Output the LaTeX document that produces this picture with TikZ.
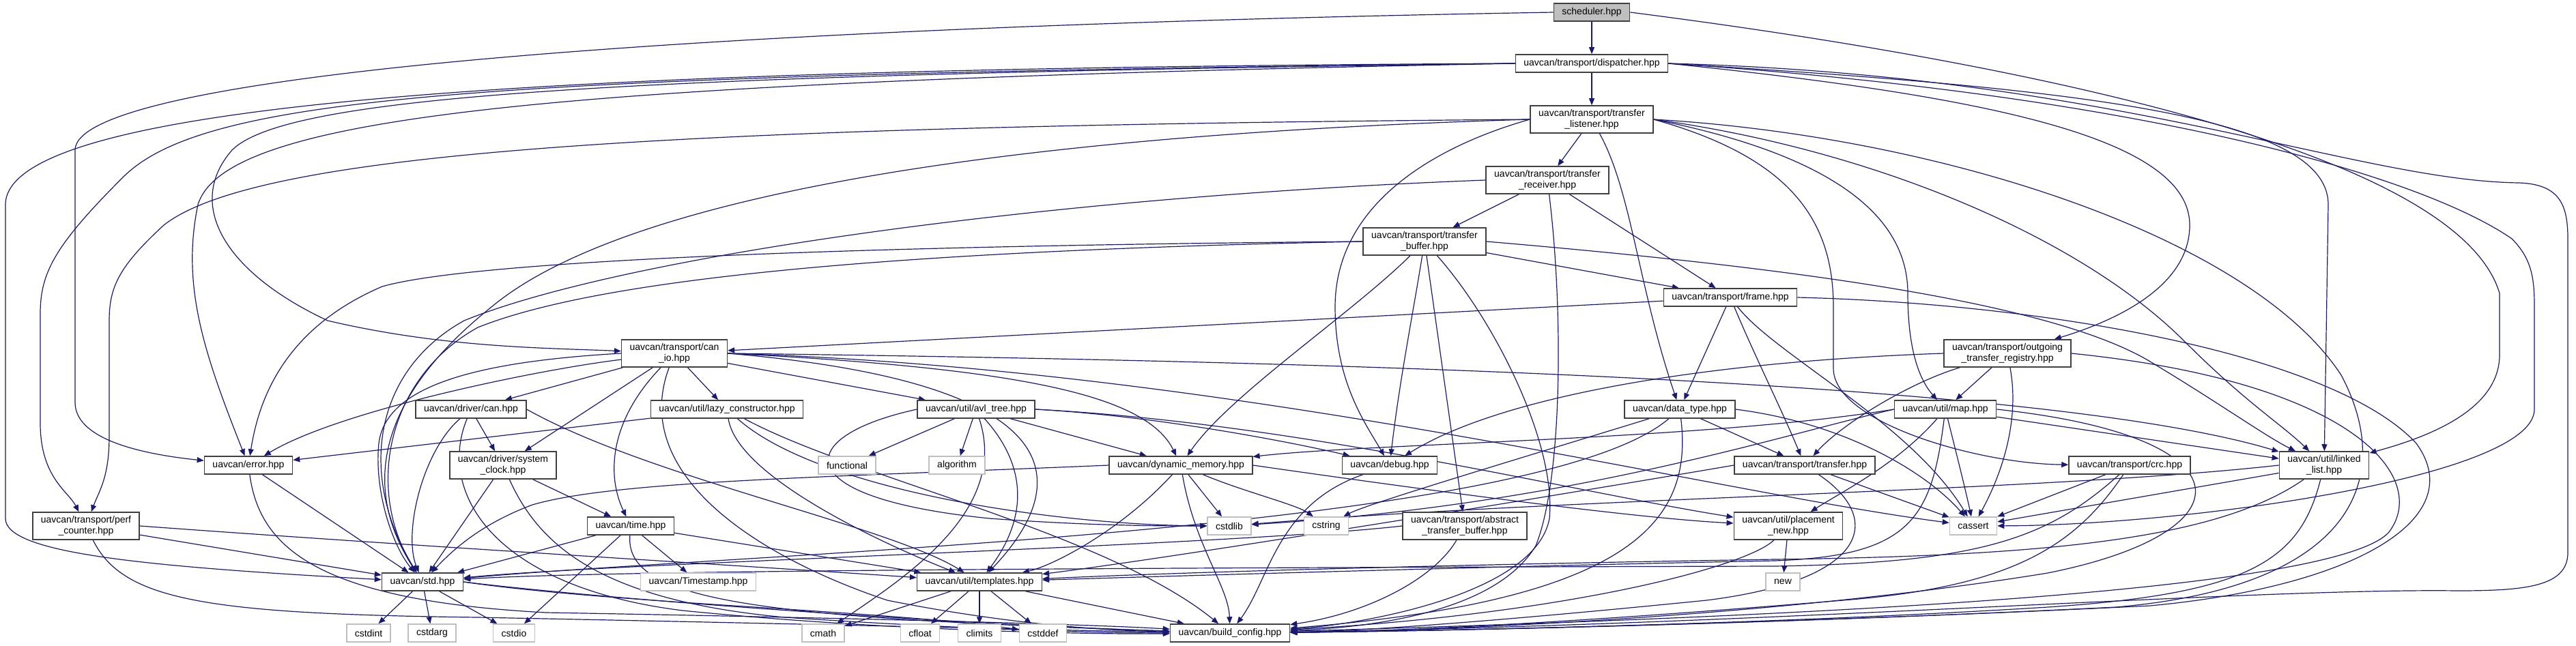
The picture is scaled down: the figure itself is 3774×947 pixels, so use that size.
\documentclass[tikz,border=0pt]{standalone}
\usepackage{fontspec}
\setmainfont{Liberation Sans}
\usetikzlibrary{arrows.meta}

\definecolor{edgeblue}{HTML}{191970}
\definecolor{hdrline}{HTML}{404040}
\definecolor{sysline}{HTML}{BFBFBF}
\definecolor{rootfill}{HTML}{BFBFBF}

\pgfdeclarelayer{edges}
\pgfsetlayers{edges,main}

\tikzset{
	hdr/.style = {draw=hdrline, line width=1.5pt, fill=white, align=center, inner xsep=12pt, inner ysep=5.5pt, minimum height=26pt, font=\fontsize{14}{16}\selectfont},
	syshdr/.style = {hdr, draw=sysline},
	roothdr/.style = {hdr, fill=rootfill},
	inc/.style = {draw=edgeblue, line width=1.2pt, -{Triangle[length=10pt,width=8pt]}}
}

\begin{document}
\begin{tikzpicture}[x=1pt,y=-1pt]

	\useasboundingbox (0,0) rectangle (3774,947);

	\node[roothdr] (sched) at (2332,18) {scheduler.hpp};
	\node[hdr] (disp) at (2332,93) {uavcan/transport/dispatcher.hpp};
	\node[hdr] (listener) at (2332,175) {uavcan/transport/transfer\\\_listener.hpp};
	\node[hdr] (receiver) at (2267,264) {uavcan/transport/transfer\\\_receiver.hpp};
	\node[hdr] (tbuffer) at (2087,354) {uavcan/transport/transfer\\\_buffer.hpp};
	\node[hdr] (frame) at (2535,436) {uavcan/transport/frame.hpp};
	\node[hdr] (canio) at (988,518) {uavcan/transport/can\\\_io.hpp};
	\node[hdr] (outgoing) at (2941,518) {uavcan/transport/outgoing\\\_transfer\_registry.hpp};
	\node[hdr] (drvcan) at (690,600) {uavcan/driver/can.hpp};
	\node[hdr] (lazy) at (1065,600) {uavcan/util/lazy\_constructor.hpp};
	\node[hdr] (avl) at (1430,600) {uavcan/util/avl\_tree.hpp};
	\node[hdr] (datatype) at (2461,600) {uavcan/data\_type.hpp};
	\node[hdr] (map) at (2850,600) {uavcan/util/map.hpp};
	\node[hdr] (error) at (364,682) {uavcan/error.hpp};
	\node[hdr] (sysclock) at (737,682) {uavcan/driver/system\\\_clock.hpp};
	\node[syshdr] (functional) at (1241,682) {functional};
	\node[syshdr] (algorithm) at (1402,682) {algorithm};
	\node[hdr] (dynmem) at (1730,682) {uavcan/dynamic\_memory.hpp};
	\node[hdr] (debug) at (2036,682) {uavcan/debug.hpp};
	\node[hdr] (transfer) at (2644,682) {uavcan/transport/transfer.hpp};
	\node[hdr] (crc) at (3120,682) {uavcan/transport/crc.hpp};
	\node[hdr] (linked) at (3405,682) {uavcan/util/linked\\\_list.hpp};
	\node[hdr] (perf) at (126,771) {uavcan/transport/perf\\\_counter.hpp};
	\node[hdr] (time) at (924,771) {uavcan/time.hpp};
	\node[syshdr] (cstdlib) at (1801,771) {cstdlib};
	\node[syshdr] (cstring) at (1943,771) {cstring};
	\node[hdr] (abstract) at (2146,771) {uavcan/transport/abstract\\\_transfer\_buffer.hpp};
	\node[hdr] (placement) at (2620,771) {uavcan/util/placement\\\_new.hpp};
	\node[syshdr] (cassert) at (2891,771) {cassert};
	\node[hdr] (std) at (619,853) {uavcan/std.hpp};
	\node[syshdr] (timestamp) at (1023,853) {uavcan/Timestamp.hpp};
	\node[hdr] (templates) at (1435,853) {uavcan/util/templates.hpp};
	\node[syshdr] (new) at (2612,853) {new};
	\node[syshdr] (cstdint) at (540,928) {cstdint};
	\node[syshdr] (cstdarg) at (633,928) {cstdarg};
	\node[syshdr] (cstdio) at (753,928) {cstdio};
	\node[syshdr] (cmath) at (1206,928) {cmath};
	\node[syshdr] (cfloat) at (1348,928) {cfloat};
	\node[syshdr] (climits) at (1435,928) {climits};
	\node[syshdr] (cstddef) at (1528,928) {cstddef};
	\node[hdr] (buildcfg) at (1802,928) {uavcan/build\_config.hpp};

	\begin{pgfonlayer}{edges}
	\draw[inc] (sched) -- (disp);
	\draw[inc] (sched.west) .. controls (1000,40) and (110,110) .. (110,220) -- (110,590) .. controls (110,650) and (230,668) .. (error);
	\draw[inc] (sched.east) .. controls (2950,90) and (3600,220) .. (3662,430) -- (3662,520) .. controls (3662,600) and (3560,640) .. (linked);

	\draw[inc] (disp) -- (listener);
	\draw[inc] (disp.east) .. controls (3100,110) and (3450,265) .. (3690,268) .. controls (3750,270) and (3762,300) .. (3762,350) -- (3762,810) .. controls (3762,860) and (3700,866) .. (3600,866) .. controls (3300,862) and (2600,915) .. (buildcfg);
	\draw[inc] (disp.east) .. controls (3150,140) and (3550,260) .. (3680,350) .. controls (3710,380) and (3713,410) .. (3713,450) -- (3713,600) .. controls (3713,700) and (3200,770) .. (cassert);
	\draw[inc] (disp.east) .. controls (3050,130) and (3411,170) .. (3411,300) -- (linked);
	\draw[inc] (disp.east) .. controls (2900,140) and (3208,200) .. (3208,330) .. controls (3208,420) and (3100,470) .. (outgoing);
	\draw[inc] (disp.west) .. controls (900,100) and (8,140) .. (8,300) -- (8,760) .. controls (8,810) and (200,830) .. (std);
	\draw[inc] (disp.west) .. controls (700,110) and (300,140) .. (180,260) .. controls (80,360) and (59,400) .. (59,460) -- (59,620) .. controls (59,700) and (100,720) .. (perf);
	\draw[inc] (disp.west) .. controls (900,110) and (420,140) .. (340,220) .. controls (270,300) and (330,400) .. (480,470) .. controls (650,510) and (800,510) .. (canio);
	\draw[inc] (disp.west) .. controls (800,120) and (330,170) .. (290,300) .. controls (265,420) and (300,520) .. (error);

	\draw[inc] (listener) -- (receiver);
	\draw[inc] (listener.west) .. controls (1000,185) and (380,220) .. (240,330) .. controls (175,390) and (160,420) .. (160,470) -- (160,640) .. controls (160,700) and (145,720) .. (perf);
	\draw[inc] (listener.west) .. controls (1400,200) and (900,300) .. (720,450) .. controls (570,570) and (520,700) .. (std);
	\draw[inc] (listener.west) .. controls (2100,215) and (1956,300) .. (1956,450) .. controls (1956,560) and (2000,620) .. (debug);
	\draw[inc] (listener) .. controls (2390,280) and (2400,420) .. (datatype);
	\draw[inc] (listener.east) .. controls (2650,220) and (2795,300) .. (2795,430) .. controls (2795,520) and (2815,560) .. (map);
	\draw[inc] (listener.east) .. controls (2620,230) and (2686,320) .. (2686,450) -- (2686,540) .. controls (2686,620) and (2900,680) .. (crc);
	\draw[inc] (listener.east) .. controls (2750,220) and (3050,350) .. (3200,500) .. controls (3290,590) and (3340,620) .. (linked);
	\draw[inc] (listener.east) .. controls (2850,200) and (3300,350) .. (3430,550) .. controls (3510,700) and (3450,860) .. (3100,890) .. controls (2600,915) and (2100,925) .. (buildcfg);

	\draw[inc] (receiver) -- (tbuffer);
	\draw[inc] (receiver) -- (frame);
	\draw[inc] (receiver.west) .. controls (1500,290) and (900,380) .. (680,470) .. controls (545,545) and (525,700) .. (std);
	\draw[inc] (receiver) .. controls (2290,450) and (2290,700) .. (2250,800) .. controls (2190,900) and (2000,920) .. (buildcfg);

	\draw[inc] (tbuffer) -- (frame);
	\draw[inc] (tbuffer) -- (abstract);
	\draw[inc] (tbuffer) .. controls (2070,460) and (2050,560) .. (debug);
	\draw[inc] (tbuffer) .. controls (1980,460) and (1800,580) .. (dynmem);
	\draw[inc] (tbuffer.east) .. controls (2600,390) and (3000,440) .. (3150,530) .. controls (3250,590) and (3320,640) .. (linked);
	\draw[inc] (tbuffer.west) .. controls (1300,360) and (700,380) .. (560,420) .. controls (420,480) and (380,580) .. (error);
	\draw[inc] (tbuffer.west) .. controls (1200,370) and (850,420) .. (700,480) .. controls (565,555) and (535,720) .. (std);
	\draw[inc] (tbuffer) .. controls (2190,470) and (2280,650) .. (2270,760) .. controls (2250,870) and (2000,915) .. (buildcfg);

	\draw[inc] (frame) -- (canio);
	\draw[inc] (frame) -- (datatype);
	\draw[inc] (frame) .. controls (2570,520) and (2610,600) .. (transfer);
	\draw[inc] (frame) .. controls (2600,520) and (2800,620) .. (cassert);
	\draw[inc] (frame.east) .. controls (3000,445) and (3420,520) .. (3540,650) .. controls (3620,760) and (3450,860) .. (3150,888) .. controls (2600,915) and (2100,925) .. (buildcfg);

	\draw[inc] (canio) .. controls (800,540) and (500,600) .. (error);
	\draw[inc] (canio.west) .. controls (700,530) and (565,565) .. (555,650) .. controls (548,720) and (575,800) .. (std);
	\draw[inc] (canio) -- (drvcan);
	\draw[inc] (canio) -- (sysclock);
	\draw[inc] (canio) .. controls (890,620) and (890,700) .. (time);
	\draw[inc] (canio) -- (lazy);
	\draw[inc] (canio) -- (avl);
	\draw[inc] (canio.east) .. controls (1500,540) and (1680,580) .. (dynmem);
	\draw[inc] (canio.east) .. controls (1560,560) and (1580,700) .. (templates);
	\draw[inc] (canio.east) .. controls (2000,530) and (3000,560) .. (linked);
	\draw[inc] (canio.east) .. controls (1800,540) and (2500,720) .. (cassert);
	\draw[inc] (canio) .. controls (920,700) and (1120,820) .. (1300,880) .. controls (1500,920) and (1650,925) .. (buildcfg);

	\draw[inc] (drvcan) .. controls (620,660) and (590,780) .. (std);
	\draw[inc] (drvcan) -- (sysclock);
	\draw[inc] (drvcan) .. controls (640,720) and (720,860) .. (1000,895) .. controls (1300,925) and (1600,930) .. (buildcfg);
	\draw[inc] (drvcan.east) .. controls (950,700) and (1300,770) .. (templates);

	\draw[inc] (sysclock) -- (std);
	\draw[inc] (sysclock) -- (time);
	\draw[inc] (sysclock) .. controls (790,800) and (880,880) .. (1150,905) .. controls (1450,925) and (1650,928) .. (buildcfg);

	\draw[inc] (error) -- (std);
	\draw[inc] (error) .. controls (380,800) and (460,880) .. (800,898) .. controls (1200,905) and (1600,915) .. (buildcfg);

	\draw[inc] (perf) -- (std);
	\draw[inc] (perf.east) .. controls (600,800) and (1100,830) .. (templates);
	\draw[inc] (perf) .. controls (180,880) and (300,900) .. (700,905) .. controls (1200,915) and (1600,925) .. (buildcfg);

	\draw[inc] (time) -- (timestamp);
	\draw[inc] (time) -- (std);
	\draw[inc] (time) -- (cstdio);
	\draw[inc] (time) -- (templates);
	\draw[inc] (time) .. controls (915,880) and (1100,905) .. (buildcfg);

	\draw[inc] (std) -- (cstdint);
	\draw[inc] (std) -- (cstdarg);
	\draw[inc] (std) -- (cstdio);
	\draw[inc] (std.east) .. controls (900,885) and (1300,895) .. (cstddef);
	\draw[inc] (std.east) .. controls (900,880) and (1400,915) .. (buildcfg);

	\draw[inc] (templates) -- (cmath);
	\draw[inc] (templates) -- (cfloat);
	\draw[inc] (templates) -- (climits);
	\draw[inc] (templates) -- (cstddef);
	\draw[inc] (templates) -- (buildcfg);

	\draw[inc] (lazy) -- (error);
	\draw[inc] (lazy) .. controls (1080,700) and (1300,800) .. (templates);
	\draw[inc] (lazy) .. controls (1250,700) and (1620,780) .. (buildcfg);
	\draw[inc] (lazy) .. controls (1200,720) and (1550,770) .. (cstdlib);

	\draw[inc] (avl) -- (functional);
	\draw[inc] (avl) -- (algorithm);
	\draw[inc] (avl.west) .. controls (1160,640) and (1150,730) .. (1450,760) .. controls (1600,771) and (1700,771) .. (cstdlib);
	\draw[inc] (avl) .. controls (1480,750) and (1320,850) .. (cmath);
	\draw[inc] (avl) .. controls (1520,700) and (1490,780) .. (templates);
	\draw[inc] (avl) -- (dynmem);
	\draw[inc] (avl.east) .. controls (1700,610) and (1900,650) .. (debug);
	\draw[inc] (avl.east) .. controls (1900,620) and (2300,720) .. (placement);

	\draw[inc] (dynmem) -- (cstdlib);
	\draw[inc] (dynmem) .. controls (1820,720) and (1900,740) .. (cstring);
	\draw[inc] (dynmem.west) .. controls (1200,700) and (900,705) .. (780,740) .. controls (700,770) and (660,810) .. (std);
	\draw[inc] (dynmem) .. controls (1640,780) and (1540,830) .. (templates);
	\draw[inc] (dynmem) .. controls (1750,800) and (1800,860) .. (buildcfg);
	\draw[inc] (dynmem.east) .. controls (2100,720) and (2400,760) .. (placement);

	\draw[inc] (datatype) -- (transfer);
	\draw[inc] (datatype) .. controls (2200,680) and (2000,740) .. (cstring);
	\draw[inc] (datatype) .. controls (2250,780) and (1100,810) .. (std);
	\draw[inc] (datatype) .. controls (2480,760) and (2400,880) .. (buildcfg);
	\draw[inc] (datatype.east) .. controls (2700,620) and (2820,690) .. (cassert);

	\draw[inc] (transfer) -- (cassert);
	\draw[inc] (transfer.west) .. controls (2200,740) and (1700,820) .. (templates);
	\draw[inc] (transfer) .. controls (2760,760) and (2740,850) .. (2500,880) .. controls (2200,910) and (2000,925) .. (buildcfg);

	\draw[inc] (placement) -- (new);
	\draw[inc] (placement) .. controls (2560,830) and (2300,900) .. (buildcfg);

	\draw[inc] (map) -- (linked);
	\draw[inc] (map) .. controls (2870,680) and (2880,720) .. (cassert);
	\draw[inc] (map) .. controls (2780,680) and (2700,720) .. (placement);
	\draw[inc] (map.west) .. controls (2500,645) and (2000,650) .. (dynmem);
	\draw[inc] (map.west) .. controls (2600,640) and (2300,740) .. (cstdlib);
	\draw[inc] (map) .. controls (2830,760) and (2800,815) .. (2600,822) .. controls (2200,830) and (1700,845) .. (templates);
	\draw[inc] (map.east) .. controls (3300,640) and (3300,780) .. (3000,840) .. controls (2600,905) and (2100,925) .. (buildcfg);

	\draw[inc] (crc) -- (cassert);
	\draw[inc] (crc) .. controls (3000,790) and (2900,825) .. (2600,830) .. controls (1800,832) and (900,835) .. (std);
	\draw[inc] (crc) .. controls (3040,800) and (2950,860) .. (2700,880) .. controls (2400,905) and (2100,925) .. (buildcfg);

	\draw[inc] (linked) -- (cassert);
	\draw[inc] (linked.west) .. controls (3000,720) and (2300,730) .. (cstdlib);
	\draw[inc] (linked) .. controls (3250,790) and (3000,815) .. (2600,820) .. controls (2100,828) and (1700,840) .. (templates);
	\draw[inc] (linked) .. controls (3370,820) and (3300,870) .. (3000,890) .. controls (2600,915) and (2100,925) .. (buildcfg);

	\draw[inc] (outgoing) -- (map);
	\draw[inc] (outgoing) .. controls (2960,620) and (2930,700) .. (cassert);
	\draw[inc] (outgoing) .. controls (2800,560) and (2700,620) .. (transfer);
	\draw[inc] (outgoing.west) .. controls (2500,530) and (2200,580) .. (debug);
	\draw[inc] (outgoing.east) .. controls (3450,560) and (3560,700) .. (3500,780) .. controls (3420,870) and (2600,905) .. (buildcfg);

	\draw[inc] (debug) .. controls (1870,740) and (1860,850) .. (buildcfg);

	\draw[inc] (abstract) .. controls (2100,850) and (2000,900) .. (buildcfg);
	\draw[inc] (abstract.west) .. controls (1800,800) and (900,825) .. (std);
	\end{pgfonlayer}

\end{tikzpicture}
\end{document}
